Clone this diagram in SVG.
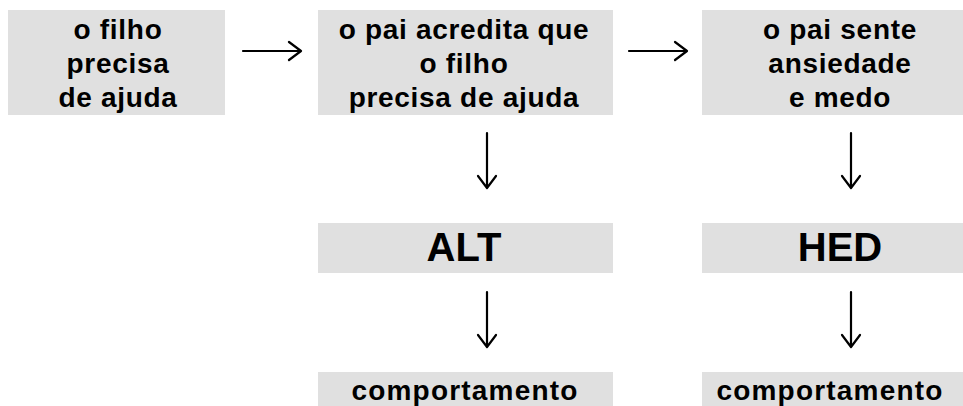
<svg xmlns="http://www.w3.org/2000/svg" width="963" height="406" viewBox="0 0 963 406">
<style>
.box{fill:#e0e0e0}
text{font-family:"Liberation Sans",Arial,sans-serif;font-weight:bold;fill:#000;text-anchor:middle}
.t{font-size:28px;letter-spacing:0.7px}
.big{font-size:40px}
.c{font-size:28px;letter-spacing:1.2px}
.arr{fill:none;stroke:#000;stroke-width:2.2;stroke-linecap:round;stroke-linejoin:round}
</style>
<rect width="963" height="406" fill="#fff"/>
<g id="n1"><rect class="box" x="8" y="10" width="217" height="105"/>
<text class="t" x="118" y="39">o filho</text><text class="t" x="118" y="73">precisa</text><text class="t" x="118" y="107">de ajuda</text></g>
<g id="n2"><rect class="box" x="318" y="10" width="295" height="105"/>
<text class="t" x="464" y="39">o pai acredita que</text><text class="t" x="464" y="73">o filho</text><text class="t" x="464" y="107">precisa de ajuda</text></g>
<g id="n3"><rect class="box" x="702" y="10" width="261" height="105"/>
<text class="t" x="840" y="39">o pai sente</text><text class="t" x="840" y="73">ansiedade</text><text class="t" x="840" y="107">e medo</text></g>
<g id="n4"><rect class="box" x="318" y="223" width="295" height="50"/><text class="big" x="464" y="261">ALT</text></g>
<g id="n5"><rect class="box" x="702" y="223" width="261" height="50"/><text class="big" x="840" y="261">HED</text></g>
<g id="n6"><rect class="box" x="318" y="372" width="295" height="34"/><text class="c" x="465" y="400">comportamento</text></g>
<g id="n7"><rect class="box" x="702" y="372" width="261" height="34"/><text class="c" x="830" y="400">comportamento</text></g>
<g id="connectors">
<path class="arr" d="M243 51H301M289 42L301 51L289 60"/>
<path class="arr" d="M629 51H687M675 42L687 51L675 60"/>
<path class="arr" d="M487 133V188M478 176L487 188L496 176"/>
<path class="arr" d="M851 133V188M842 176L851 188L860 176"/>
<path class="arr" d="M487 292V347M478 335L487 347L496 335"/>
<path class="arr" d="M851 292V347M842 335L851 347L860 335"/>
</g>
</svg>
